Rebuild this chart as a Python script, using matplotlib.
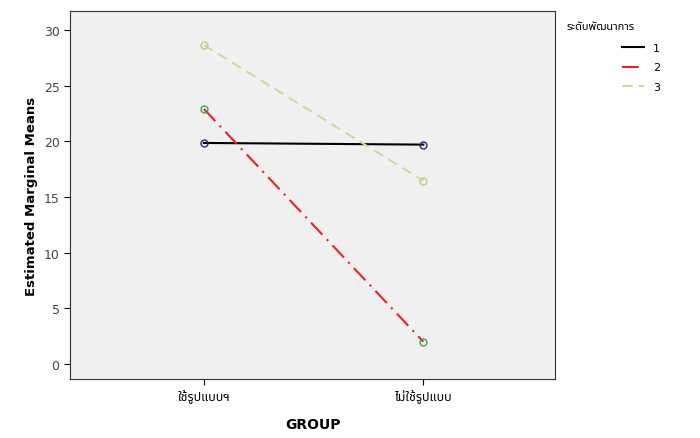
import matplotlib
matplotlib.use('Agg')
import matplotlib.pyplot as plt
from matplotlib.lines import Line2D

groups = ['ใช้รูปแบบฯ', 'ไม่ใช้รูปแบบ']
levels = ['1', '2', '3']
means_1 = [19.85, 19.7]
means_2 = [22.9, 2.0]
means_3 = [28.65, 16.45]

thai = ['Noto Sans Thai', 'DejaVu Sans']

fig = plt.figure(figsize=(7, 4.39), dpi=100)
ax = fig.add_axes([70/700, 1 - 380/439, 485/700, 368/439])
ax.set_facecolor('#f0f0f0')

styles = [
    dict(color='black', ls='-', mec='#2b2b7a'),
    dict(color='#e8202a', ls=(0, (8, 3, 1, 3)), mec='#3aa84a'),
    dict(color='#d6d6a0', ls=(0, (5, 3)), mec='#c8c880'),
]

x = [0, 1]
handles = []
for vals, st, lab in zip([means_1, means_2, means_3], styles, levels):
    ax.plot(x, vals, color=st['color'], lw=1.5, ls=st['ls'], marker='o', ms=5,
            mfc='none', mec=st['mec'])
    handles.append(Line2D([], [], color=st['color'], lw=1.5, ls=st['ls'], label=lab))

ax.set_xlim(-0.61, 1.6)
ax.set_ylim(-1.35, 31.7)
ax.set_yticks([0, 5, 10, 15, 20, 25, 30])
ax.set_xticks(x)
ax.set_xticklabels(groups, family=thai, fontsize=9)
ax.tick_params(axis='y', labelsize=9, labelcolor='#444444', length=4)
ax.tick_params(axis='x', length=4)
for s in ax.spines.values():
    s.set_color('#333333')

ax.set_ylabel('Estimated Marginal Means', fontsize=9.5, fontweight='bold')
ax.set_xlabel('GROUP', fontsize=10, fontweight='bold', labelpad=10)

fig.text(567/700, 1 - 28/439, 'ระดับพัฒนาการ', family=thai, fontsize=8, va='center')
fig.legend(handles=handles, loc='upper left', bbox_to_anchor=(612/700, 1 - 34/439),
           frameon=False, fontsize=8, handlelength=2.0, labelspacing=0.85, handletextpad=0.8)

fig.savefig('out.png', dpi=100)
